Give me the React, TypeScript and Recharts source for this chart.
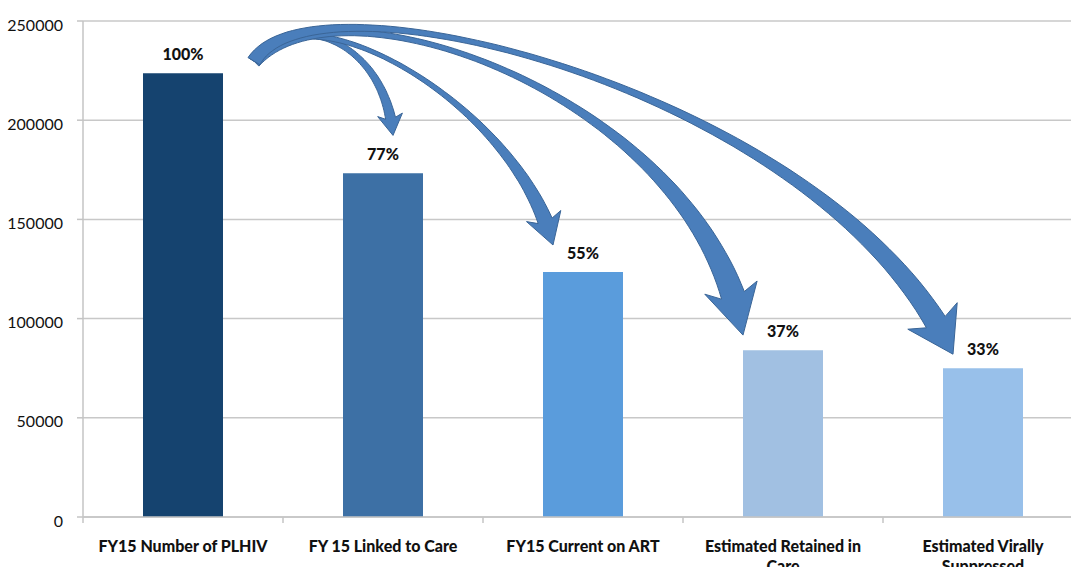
import React from 'react';
import { BarChart, Bar, XAxis, YAxis, CartesianGrid, Cell, LabelList } from 'recharts';

const categories = [
  'FY15 Number of PLHIV',
  'FY 15 Linked to Care',
  'FY15 Current on ART',
  'Estimated Retained in\nCare',
  'Estimated Virally\nSuppressed',
];
const values = [223700, 173200, 123500, 84100, 75000];
const pctLabels = ['100%', '77%', '55%', '37%', '33%'];
const barColors = ['#15436f', '#3d70a5', '#5a9cdc', '#a1c0e2', '#98c0ea'];
const yTicks = [0, 50000, 100000, 150000, 200000, 250000];

const data = categories.map((c, i) => ({ name: c, value: values[i], pct: pctLabels[i] }));

const FONT = 'Lato, "Open Sans", sans-serif';

// annotation arrow layout (relative to the bars they point at)
const arrowLayout: any[] = [
  null,
  { tip: [10, -38], c1: [37, -55], c2: [-8, -96], w: [11, 0, 10], head: [25, 17] },
  { tip: [-30, -27], c1: [50, -80], c2: [-35, -140], w: [12, -5, 15], head: [36, 25] },
  { tip: [-40, -15], c1: [90, -90], c2: [-40, -235], w: [14, -8, 24], head: [54, 40] },
  { tip: [-30, -14], c1: [60, -100], c2: [-120, -260], w: [14, -7, 22], head: [56, 35] },
];

type P = [number, number];
const bez = (a: P, b: P, c: P, d: P, t: number): P => {
  const u = 1 - t;
  return [
    u * u * u * a[0] + 3 * u * u * t * b[0] + 3 * u * t * t * c[0] + t * t * t * d[0],
    u * u * u * a[1] + 3 * u * u * t * b[1] + 3 * u * t * t * c[1] + t * t * t * d[1],
  ];
};
const bezD = (a: P, b: P, c: P, d: P, t: number): P => {
  const u = 1 - t;
  return [
    3 * u * u * (b[0] - a[0]) + 6 * u * t * (c[0] - b[0]) + 3 * t * t * (d[0] - c[0]),
    3 * u * u * (b[1] - a[1]) + 6 * u * t * (c[1] - b[1]) + 3 * t * t * (d[1] - c[1]),
  ];
};

function arrowPath(S: P, C1: P, C2: P, T: P, w: number[], head: number[]) {
  const [headW, headL] = head;
  let tb = 0.9;
  for (let t = 1; t > 0; t -= 0.002) {
    const p = bez(S, C1, C2, T, t);
    if (Math.hypot(p[0] - T[0], p[1] - T[1]) >= headL) { tb = t; break; }
  }
  const N = 80;
  const L: P[] = [];
  const R: P[] = [];
  let nEnd: P = [0, 0];
  for (let k = 0; k <= N; k++) {
    const s = k / N;
    const t = tb * s;
    const p = bez(S, C1, C2, T, t);
    const d = bezD(S, C1, C2, T, t);
    const len = Math.hypot(d[0], d[1]) || 1;
    const n: P = [-d[1] / len, d[0] / len];
    let ww = (1 - s) * (1 - s) * w[0] + 2 * s * (1 - s) * w[1] + s * s * w[2];
    ww = Math.max(ww, 4);
    L.push([p[0] + n[0] * ww / 2, p[1] + n[1] * ww / 2]);
    R.push([p[0] - n[0] * ww / 2, p[1] - n[1] * ww / 2]);
    nEnd = n;
  }
  const B = bez(S, C1, C2, T, tb);
  const dl = Math.hypot(T[0] - B[0], T[1] - B[1]) || 1;
  const dir: P = [(T[0] - B[0]) / dl, (T[1] - B[1]) / dl];
  let nn: P = [-dir[1], dir[0]];
  if (nn[0] * nEnd[0] + nn[1] * nEnd[1] < 0) nn = [-nn[0], -nn[1]];
  const back = headL * 0.2;
  const bL: P = [B[0] + nn[0] * headW / 2 - dir[0] * back, B[1] + nn[1] * headW / 2 - dir[1] * back];
  const bR: P = [B[0] - nn[0] * headW / 2 - dir[0] * back, B[1] - nn[1] * headW / 2 - dir[1] * back];
  const pts: P[] = [...L, bL, T, bR, ...R.slice().reverse()];
  return 'M' + pts.map((p) => `${p[0].toFixed(1)},${p[1].toFixed(1)}`).join('L') + 'Z';
}

const barGeom: { x: number; y: number; w: number }[] = [];

const getBox = (props: any) => {
  const vb = props.viewBox || {};
  return {
    x: Number(vb.x ?? props.x),
    y: Number(vb.y ?? props.y),
    w: Number(vb.width ?? props.width),
  };
};

const renderPct = (props: any) => {
  const { x, y, w } = getBox(props);
  return (
    <text
      x={x + w / 2}
      y={y - 13}
      textAnchor="middle"
      fontFamily={FONT}
      fontWeight={900}
      fontSize={16}
      fill="#111"
    >
      {props.value}
    </text>
  );
};

const renderArrow = (props: any) => {
  const idx = props.index;
  const box = getBox(props);
  barGeom[idx] = box;
  if (idx === 0 || !arrowLayout[idx] || !barGeom[0]) return null;
  const o = barGeom[0];
  const S: P = [o.x + o.w + 31, o.y - 12];
  const a = arrowLayout[idx];
  const T: P = [box.x + box.w / 2 + a.tip[0], box.y + a.tip[1]];
  const C1: P = [S[0] + a.c1[0], S[1] + a.c1[1]];
  const C2: P = [T[0] + a.c2[0], T[1] + a.c2[1]];
  return (
    <path
      d={arrowPath(S, C1, C2, T, a.w, a.head)}
      fill="#4a7ebb"
      stroke="#3a6597"
      strokeWidth={1}
      strokeLinejoin="round"
    />
  );
};

const XTick = (props: any) => {
  const { x, y, payload } = props;
  const half = payload && payload.offset ? payload.offset : 100;
  const lines = String(payload.value).split('\n');
  return (
    <g>
      <line x1={x - half} x2={x - half} y1={y} y2={y + 6} stroke="#c4c4c4" strokeWidth={1.5} />
      {lines.map((ln, i) => (
        <text
          key={i}
          x={x}
          y={y + 35 + i * 20}
          textAnchor="middle"
          fontFamily={FONT}
          fontWeight={900}
          fontSize={16}
          fill="#111"
        >
          {ln}
        </text>
      ))}
    </g>
  );
};

const YTick = (props: any) => {
  const { x, y, payload } = props;
  return (
    <text x={x} y={y + 4} dy="0.35em" textAnchor="end" fontFamily={FONT} fontSize={16} fill="#111">
      {payload.value}
    </text>
  );
};

export default function App() {
  return (
    <div
      style={{
        position: 'absolute',
        left: 0,
        top: 0,
        width: 1071,
        height: 567,
        overflow: 'hidden',
        background: '#fff',
      }}
    >
      <BarChart
        width={1100}
        height={567}
        data={data}
        margin={{ top: 21, right: 17, left: 8, bottom: 0 }}
      >
        <CartesianGrid vertical={false} stroke="#c8c8c8" strokeWidth={1.5} />
        <XAxis
          dataKey="name"
          height={50}
          interval={0}
          tickLine={false}
          tickSize={0}
          tickMargin={0}
          axisLine={{ stroke: '#c4c4c4', strokeWidth: 1.5 }}
          tick={<XTick />}
        />
        <YAxis
          width={75}
          domain={[0, 250000]}
          ticks={yTicks}
          interval={0}
          tickSize={6}
          tickMargin={14}
          tickLine={{ stroke: '#c4c4c4', strokeWidth: 1.5 }}
          axisLine={{ stroke: '#c4c4c4', strokeWidth: 1.5 }}
          tick={<YTick />}
        />
        <Bar dataKey="value" barSize={80} isAnimationActive={false}>
          {data.map((d, i) => (
            <Cell key={d.name} fill={barColors[i]} />
          ))}
          <LabelList dataKey="pct" content={renderPct} />
          <LabelList dataKey="value" content={renderArrow} />
        </Bar>
      </BarChart>
    </div>
  );
}
